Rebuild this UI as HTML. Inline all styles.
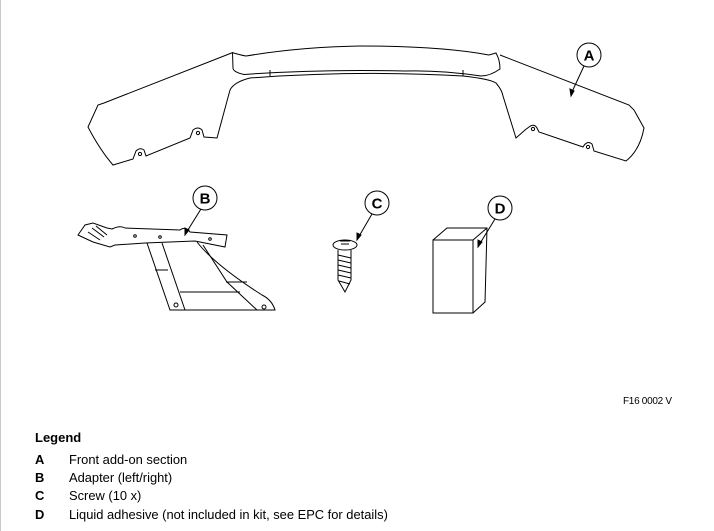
<!DOCTYPE html>
<html><head><meta charset="utf-8"><style>
html,body{margin:0;padding:0;background:#fff;}
body{width:714px;height:531px;position:relative;overflow:hidden;font-family:"Liberation Sans",Arial,sans-serif;color:#000;}
.l{position:absolute;left:0;top:0;width:1px;height:531px;background:#c8c8c8;}
.t{position:absolute;font-size:12.9px;white-space:nowrap;}
.b{font-weight:bold;}
</style></head><body>
<div class="l"></div>
<svg width="714" height="531" style="position:absolute;left:0;top:0" fill="none" stroke="#000" stroke-width="1">
<path d="M232.5,52.6 Q240,55 246,56 Q300,47 360,46 Q440,46 489,55 L496,53 Q500,60 500,69 Q490,76 481,76 Q440,70 405,71 Q320,69 244,74.5 Q233,72 233,68 Z"/>
<path d="M270,76 L270,70 M463,76 L463,70"/>
<path d="M232.5,52.6 L104,103 L98,105 L88,127 Q100,150 113,165 L133,159 L136,151 Q140,147 144,150 L146,156 L190,138 L193,130 Q198,126 202,130 L204,137 L217,138 L230,90 Q234,82 250,78 Q360,70 463,76 Q490,79 496,83 Q502,90 503,96 L516,138 L525,130 L529,127 Q534,123 537,128 L539,132 L583,147 Q587,140 592,144 L594,151 L626,161 Q640,150 644,128 L634,110 L629,105 L500,55"/>
<circle cx="198" cy="133" r="1.6"/><circle cx="140" cy="154" r="1.6"/><circle cx="533" cy="129" r="1.6"/><circle cx="588" cy="147" r="1.6"/>
<circle cx="589" cy="55" r="12" fill="#fff"/>
<path d="M584,66 L571,94"/><path d="M571,96 L570,89 L574,91 Z" fill="#000"/>
<path d="M78,235 L85,225 L93,223 L107,228 L112,229 Q120,225 125,228 L180,230 Q185,226 190,232 L227,235 L225,247 L195,241 L145,243 L115,245 L110,247 L93,242 Z"/>
<path d="M88,232 L100,240 M92,228 L104,237 M96,226 L107,235"/>
<circle cx="135" cy="236" r="1.3"/><circle cx="160" cy="237" r="1.3"/><circle cx="210" cy="239" r="1.3"/>
<path d="M147,243 L170,310 L275,310 Q272,300 262,295 Q215,265 197,242"/>
<path d="M162,243 L185,310"/>
<path d="M203,245 L227,282 L257,310"/>
<path d="M180,292 L240,292 M155,270 L168,270 M226,282 L247,282"/>
<circle cx="176" cy="305" r="2"/><circle cx="264" cy="307" r="2"/>
<circle cx="205" cy="198" r="12" fill="#fff"/>
<path d="M201,209 L186,233"/><path d="M185,235 L185,228 L189,230 Z" fill="#000"/>
<ellipse cx="345" cy="245" rx="12" ry="5"/>
<path d="M340,241 L350,241 M341,244 L349,244"/>
<path d="M338,250 L338,280 L345,292 L351,280 L351,250"/>
<path d="M338,255 L351,258 M338,260 L351,263 M338,265 L351,268 M338,270 L351,273 M338,275 L351,278 M339,281 L350,284"/>
<circle cx="377" cy="203" r="12" fill="#fff"/>
<path d="M372,214 L358,238"/><path d="M357,240 L357,233 L361,235 Z" fill="#000"/>
<path d="M433,240 L473,240 L473,313 L433,313 Z"/>
<path d="M433,240 L447,228 L487,228 L485,302 L473,313 M473,240 L487,228"/>
<circle cx="500" cy="208" r="12" fill="#fff"/>
<path d="M495,219 L479,245"/><path d="M478,247 L478,240 L482,242 Z" fill="#000"/>
<g stroke="none" fill="#000" font-family="Liberation Sans, Arial, sans-serif" font-weight="bold" font-size="15" text-anchor="middle">
<text x="589" y="60.5">A</text><text x="205" y="203.5">B</text><text x="377" y="208.5">C</text><text x="500" y="213.5">D</text>
</g>
</svg>
<div class="t" style="left:623px;top:396px;font-size:10px;letter-spacing:-0.3px">F16 0002 V</div>
<div class="t b" style="left:35px;top:430px;font-size:13px">Legend</div>
<div class="t b" style="left:35px;top:452px">A</div><div class="t" style="left:69px;top:452px">Front add-on section</div>
<div class="t b" style="left:35px;top:470px">B</div><div class="t" style="left:69px;top:470px">Adapter (left/right)</div>
<div class="t b" style="left:35px;top:488px">C</div><div class="t" style="left:69px;top:488px">Screw (10 x)</div>
<div class="t b" style="left:35px;top:507px">D</div><div class="t" style="left:69px;top:507px">Liquid adhesive (not included in kit, see EPC for details)</div>
</body></html>
